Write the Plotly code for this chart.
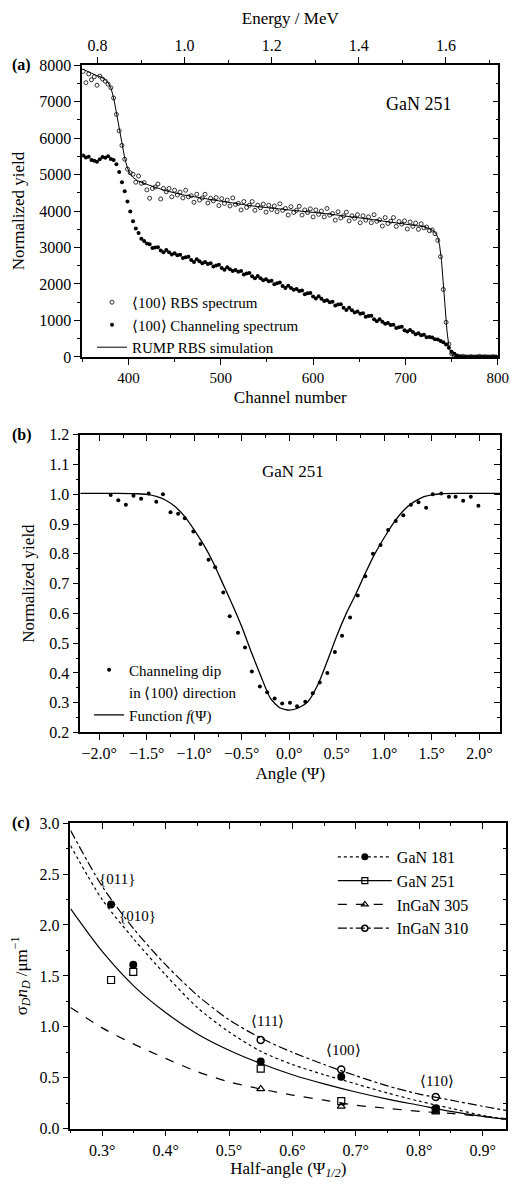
import plotly.graph_objects as go

FONT = "Liberation Serif"
W, H = 522, 1185

# ---------------- Panel (a): RBS / channeling spectra ----------------
rbs_channel = list(range(351, 799, 3))
rbs_yield = [
    7830, 7520, 7760, 7600, 7680, 7450, 7700, 7620, 7560, 7480, 7380, 7100, 6650, 6200, 5800, 5420, 5150, 5050,
    5010, 4790, 4960, 4760, 4780, 4580, 4350, 4620, 4660, 4740, 4330, 4620, 4530, 4620, 4390, 4570, 4440, 4520,
    4360, 4570, 4390, 4420, 4240, 4460, 4300, 4360, 4460, 4220, 4350, 4280, 4370, 4150, 4340, 4210, 4300, 4140,
    4360, 4180, 4210, 4030, 4260, 4100, 4160, 4260, 4020, 4160, 4090, 4190, 3970, 4160, 4040, 4140, 3980, 4200,
    4020, 4070, 3890, 4120, 3960, 4020, 4130, 3890, 4030, 3960, 4060, 3840, 4030, 3910, 4000, 3840, 4070, 3890,
    3930, 3750, 3980, 3810, 3870, 3970, 3730, 3870, 3800, 3900, 3680, 3870, 3750, 3840, 3680, 3900, 3720, 3760,
    3590, 3820, 3660, 3720, 3820, 3580, 3710, 3640, 3730, 3510, 3700, 3580, 3670, 3500, 3650, 3540, 3560, 3460,
    3480,
    3380, 3200, 2750, 1850, 950, 350, 90, 20,
    10, 0, 20, 0, 0, 10, 0, 0, 20, 0, 10, 0, 0, 10, 0,
]
chan_channel = list(range(351, 799, 3))
chan_yield = [
    5520, 5470, 5490, 5400, 5380, 5350, 5420, 5480, 5460, 5500, 5430, 5400, 5280, 5070, 4790, 4540, 4260, 3990,
    3720, 3520, 3400, 3240, 3180, 3110,
    3090, 2990, 3000, 3010, 2920, 2870, 2930, 2870, 2810, 2840, 2790, 2800, 2710, 2730, 2750, 2660, 2600, 2680,
    2620, 2570, 2600, 2550, 2570, 2480, 2510, 2530, 2440, 2390, 2460, 2405, 2355, 2385, 2335, 2355, 2260, 2285,
    2300, 2210, 2155, 2220, 2155, 2100, 2130, 2075, 2090, 1995, 2020, 2040, 1945, 1890, 1955, 1890, 1840, 1860,
    1805, 1820, 1720, 1745, 1755, 1660, 1600, 1665, 1595, 1535, 1555, 1500, 1510, 1410, 1435, 1445, 1345, 1290,
    1350, 1280, 1220, 1245, 1185, 1195, 1100, 1120, 1130, 1035, 975, 1035, 965, 910, 930, 875, 885, 790,
    815, 825, 730, 700, 740, 680, 625, 650, 595, 610, 540, 545, 530, 485, 480, 440, 400, 340,
    250, 140, 90, 40, 10,
    0, 0, 0, 0, 0, 0, 0, 0, 0, 0, 0, 0, 0,
]
rump_channel = [350, 355, 360, 365, 370, 375, 378, 381, 384, 387, 390, 393, 396, 399, 402, 405, 410, 420,
                430, 440, 460, 480, 500, 540, 580, 620, 660, 700, 720, 728, 732, 735, 737, 739, 741, 743,
                745, 747, 749, 752, 755, 800]
rump_yield = [7900, 7850, 7780, 7720, 7680, 7600, 7520, 7380, 7100, 6700, 6250, 5820, 5450, 5180, 5010, 4920,
              4830, 4730, 4640, 4560, 4440, 4350, 4270, 4120, 4020, 3910, 3780, 3650, 3570, 3500, 3420, 3280,
              3050, 2650, 2000, 1300, 700, 300, 100, 20, 0, 0]
channel_ticks = [400, 500, 600, 700, 800]
energy_ticks = [0.8, 1.0, 1.2, 1.4, 1.6]
energy_range = [0.765, 1.72]

# ---------------- Panel (b): channeling dip ----------------
dip_angle = [-1.88, -1.80, -1.72, -1.64, -1.56, -1.48, -1.40, -1.33, -1.25, -1.17,
             -1.10, -1.01, -0.935, -0.85, -0.78, -0.695, -0.627, -0.54, -0.466, -0.394,
             -0.31, -0.233, -0.154, -0.075, 0.007, 0.082, 0.168, 0.247, 0.32, 0.40,
             0.48, 0.555, 0.64, 0.72, 0.80, 0.88, 0.96, 1.04, 1.12, 1.20,
             1.28, 1.36, 1.44, 1.51, 1.60, 1.68, 1.75, 1.83, 1.91, 1.99]
dip_yield = [0.998, 0.98, 0.965, 0.995, 0.985, 1.003, 0.975, 1.0, 0.94, 0.935,
             0.92, 0.875, 0.833, 0.78, 0.755, 0.67, 0.59, 0.535, 0.485, 0.405,
             0.354, 0.335, 0.314, 0.297, 0.30, 0.288, 0.303, 0.332, 0.368, 0.40,
             0.47, 0.525, 0.586, 0.66, 0.725, 0.80, 0.83, 0.88, 0.91, 0.93,
             0.965, 0.973, 0.955, 1.0, 1.003, 0.992, 0.992, 0.978, 0.992, 0.962]
fit_angle = [-2.2, -1.8, -1.6, -1.5, -1.4, -1.3, -1.2, -1.1, -1.0, -0.9,
             -0.8, -0.7, -0.6, -0.5, -0.4, -0.3, -0.2, -0.1, 0.0, 0.1,
             0.2, 0.3, 0.4, 0.5, 0.6, 0.7, 0.8, 0.9, 1.0, 1.1,
             1.2, 1.3, 1.4, 1.5, 1.6, 1.8, 2.22]
fit_yield = [1.003, 1.003, 1.002, 1.0, 0.993, 0.98, 0.958, 0.925, 0.88, 0.83,
             0.77, 0.70, 0.63, 0.555, 0.47, 0.39, 0.315, 0.283, 0.275, 0.283,
             0.305, 0.36, 0.44, 0.525, 0.60, 0.665, 0.735, 0.80, 0.855, 0.905,
             0.945, 0.972, 0.99, 0.998, 1.002, 1.003, 1.003]
angle_ticks = [-2.0, -1.5, -1.0, -0.5, 0.0, 0.5, 1.0, 1.5, 2.0]
angle_labels = ["−2.0°", "−1.5°", "−1.0°", "−0.5°", "0.0°", "0.5°", "1.0°", "1.5°", "2.0°"]

# ---------------- Panel (c): dechanneling vs half-angle ----------------
half_angle_grid = [0.25, 0.30, 0.35, 0.40, 0.45, 0.50, 0.55, 0.60, 0.65, 0.70, 0.75, 0.80, 0.85, 0.90, 0.937]
gan181_fit = [2.78, 2.25, 1.86, 1.51, 1.19, 0.95, 0.76, 0.63, 0.53, 0.44, 0.35, 0.27, 0.20, 0.13, 0.09]
gan251_fit = [2.16, 1.74, 1.40, 1.14, 0.93, 0.77, 0.64, 0.53, 0.44, 0.36, 0.29, 0.23, 0.17, 0.12, 0.09]
ingan305_fit = [1.19, 0.99, 0.83, 0.69, 0.56, 0.46, 0.39, 0.33, 0.28, 0.23, 0.20, 0.17, 0.15, 0.12, 0.10]
ingan310_fit = [2.93, 2.38, 1.96, 1.61, 1.31, 1.07, 0.89, 0.75, 0.63, 0.52, 0.42, 0.34, 0.28, 0.22, 0.18]

gan_angle = [0.314, 0.349, 0.55, 0.677, 0.826]
gan181_pts = [2.20, 1.61, 0.66, 0.51, 0.20]
gan251_pts = [1.46, 1.54, 0.59, 0.27, 0.18]
ingan_angle = [0.55, 0.677, 0.826]
ingan305_pts = [0.39, 0.22, 0.17]
ingan310_pts = [0.87, 0.58, 0.31]

dir_labels = ["{011}", "{010}", "⟨111⟩", "⟨100⟩", "⟨110⟩"]
dir_x = [0.323, 0.355, 0.56, 0.681, 0.828]
dir_y = [2.45, 2.09, 1.06, 0.77, 0.47]

half_ticks = [0.3, 0.4, 0.5, 0.6, 0.7, 0.8, 0.9]
half_labels = ["0.3°", "0.4°", "0.5°", "0.6°", "0.7°", "0.8°", "0.9°"]


def fx(p):
    return p / W


def fy(p):
    return 1 - p / H


A_X = [fx(84), fx(509)]
A_Y = [fy(354), fy(58)]
B_X = [fx(82), fx(511)]
B_Y = [fy(735), fy(433)]
C_X = [fx(72), fx(517)]
C_Y = [fy(1137), fy(827)]

fig = go.Figure()

# Panel a traces
fig.add_trace(go.Scatter(x=rbs_channel, y=rbs_yield, mode="markers", name="⟨100⟩ RBS spectrum",
                         marker=dict(symbol="circle-open", size=4, color="black", line=dict(width=0.8)),
                         xaxis="x", yaxis="y", legend="legend"))
fig.add_trace(go.Scatter(x=chan_channel, y=chan_yield, mode="markers", name="⟨100⟩ Channeling spectrum",
                         marker=dict(symbol="circle", size=4, color="black"),
                         xaxis="x", yaxis="y", legend="legend"))
fig.add_trace(go.Scatter(x=rump_channel, y=rump_yield, mode="lines", name="RUMP RBS simulation",
                         line=dict(color="black", width=1),
                         xaxis="x", yaxis="y", legend="legend"))

# Panel b traces
fig.add_trace(go.Scatter(x=dip_angle, y=dip_yield, mode="markers", name="Channeling dip",
                         marker=dict(symbol="circle", size=4, color="black"),
                         xaxis="x2", yaxis="y2", legend="legend2"))
fig.add_trace(go.Scatter(x=[None], y=[None], mode="markers", name="in ⟨100⟩ direction",
                         marker=dict(symbol="circle", size=4, color="rgba(0,0,0,0)"),
                         xaxis="x2", yaxis="y2", legend="legend2"))
fig.add_trace(go.Scatter(x=fit_angle, y=fit_yield, mode="lines", name="Function <i>f</i>(Ψ)",
                         line=dict(color="black", width=1.3, shape="spline", smoothing=0.6),
                         xaxis="x2", yaxis="y2", legend="legend2"))

# Panel c traces
series_c = [
    ("GaN 181", gan181_fit, gan_angle, gan181_pts, "dot",
     dict(symbol="circle", size=8, color="black")),
    ("GaN 251", gan251_fit, gan_angle, gan251_pts, "solid",
     dict(symbol="square-open", size=7, color="black", line=dict(width=1.2))),
    ("InGaN 305", ingan305_fit, ingan_angle, ingan305_pts, "dash",
     dict(symbol="triangle-up-open", size=7, color="black", line=dict(width=1.2))),
    ("InGaN 310", ingan310_fit, ingan_angle, ingan310_pts, "dashdot",
     dict(symbol="circle-open", size=7, color="black", line=dict(width=1.5))),
]
for name, fit, ax_, pts, dash, mk in series_c:
    fig.add_trace(go.Scatter(x=half_angle_grid, y=fit, mode="lines", showlegend=False,
                             line=dict(color="black", width=1.2, dash=dash, shape="spline", smoothing=0.8),
                             xaxis="x3", yaxis="y3"))
    fig.add_trace(go.Scatter(x=ax_, y=pts, mode="markers", showlegend=False, marker=mk,
                             xaxis="x3", yaxis="y3"))
for name, fit, ax_, pts, dash, mk in series_c:
    lmk = dict(mk)
    lmk["size"] = 6 if mk["symbol"] != "circle" else 7
    fig.add_trace(go.Scatter(x=[None], y=[None], mode="lines+markers", name=name,
                             line=dict(color="black", width=1.2, dash=dash), marker=lmk,
                             xaxis="x3", yaxis="y3", legend="legend3"))

# dummy traces to attach mirrored / secondary axes
for xa, ya in [("x4", "y"), ("x", "y4"), ("x5", "y2"), ("x2", "y5"), ("x6", "y3"), ("x3", "y6")]:
    fig.add_trace(go.Scatter(x=[None], y=[None], mode="markers", showlegend=False, hoverinfo="skip",
                             xaxis=xa, yaxis=ya))

YTICKFONT = dict(family=FONT, size=16, color="black")
XTICKFONT = dict(family=FONT, size=16, color="black")
XTICKFONT_A = dict(family=FONT, size=15, color="black")
TITLEFONT = dict(family=FONT, size=17, color="black")
MINOR_OUT = dict(ticks="outside", ticklen=3, tickcolor="black", tickwidth=1)
MINOR_IN = dict(ticks="inside", ticklen=3, tickcolor="black", tickwidth=1)


def ax(**kw):
    d = dict(showline=True, linecolor="black", linewidth=1.5, ticks="outside", ticklen=6, tickwidth=1.3,
             tickcolor="black", showgrid=False, zeroline=False, tickfont=YTICKFONT, autorange=False)
    d.update(kw)
    return d


def mirror(**kw):
    d = dict(showline=True, linecolor="black", linewidth=1.5, ticks="inside", ticklen=6, tickwidth=1.3,
             tickcolor="black", showgrid=False, zeroline=False, showticklabels=False, autorange=False)
    d.update(kw)
    return d


fig.update_layout(
    width=W, height=H, margin=dict(l=0, r=0, t=0, b=0),
    paper_bgcolor="white", plot_bgcolor="white",
    font=dict(family=FONT, color="black"),
    # Panel a
    xaxis=ax(domain=A_X, anchor="y", range=[350, 800.5], tickvals=channel_ticks,
             ticktext=[str(v) for v in channel_ticks], tickfont=XTICKFONT_A,
             minor=dict(dtick=50, tick0=0, **MINOR_OUT),
             title=dict(text="Channel number", font=TITLEFONT, standoff=6)),
    yaxis=ax(domain=A_Y, anchor="x", range=[0, 8000], dtick=1000,
             minor=dict(dtick=500, **MINOR_OUT),
             title=dict(text="Normalized yield", font=TITLEFONT, standoff=10)),
    xaxis4=ax(overlaying="x", side="top", anchor="y", range=energy_range, tickfont=XTICKFONT,
              tickvals=energy_ticks, ticktext=[f"{v:.1f}" for v in energy_ticks],
              minor=dict(dtick=0.1, tick0=0.8, **MINOR_OUT),
              title=dict(text="Energy / MeV", font=TITLEFONT, standoff=8)),
    yaxis4=mirror(overlaying="y", side="right", anchor="x", range=[0, 8000], dtick=1000,
                  minor=dict(dtick=500, **MINOR_IN)),
    # Panel b
    xaxis2=ax(domain=B_X, anchor="y2", range=[-2.2, 2.22], tickvals=angle_ticks, ticktext=angle_labels,
              tickfont=XTICKFONT, minor=dict(dtick=0.25, tick0=0, **MINOR_OUT),
              title=dict(text="Angle (Ψ)", font=TITLEFONT, standoff=6)),
    yaxis2=ax(domain=B_Y, anchor="x2", range=[0.2, 1.2], dtick=0.1, tickformat=".1f",
              minor=dict(dtick=0.05, **MINOR_OUT),
              title=dict(text="Normalized yield", font=TITLEFONT, standoff=10)),
    xaxis5=mirror(overlaying="x2", side="top", anchor="y2", range=[-2.2, 2.22], tickvals=angle_ticks,
                  minor=dict(dtick=0.25, tick0=0, **MINOR_IN)),
    yaxis5=mirror(overlaying="y2", side="right", anchor="x2", range=[0.2, 1.2], dtick=0.1,
                  minor=dict(dtick=0.05, **MINOR_IN)),
    # Panel c
    xaxis3=ax(domain=C_X, anchor="y3", range=[0.25, 0.937], tickvals=half_ticks, ticktext=half_labels,
              tickfont=XTICKFONT, minor=dict(dtick=0.05, tick0=0, **MINOR_OUT),
              title=dict(text="Half-angle (Ψ<sub><i>1/2</i></sub>)", font=TITLEFONT, standoff=3)),
    yaxis3=ax(domain=C_Y, anchor="x3", range=[0, 3.0], dtick=0.5, tickformat=".1f",
              minor=dict(dtick=0.25, **MINOR_OUT),
              title=dict(text="σ<sub><i>D</i></sub><i>n</i><sub><i>D</i></sub> /μm<sup>−1</sup>",
                         font=TITLEFONT, standoff=8)),
    xaxis6=mirror(overlaying="x3", side="top", anchor="y3", range=[0.25, 0.937], tickvals=half_ticks,
                  minor=dict(dtick=0.05, tick0=0, **MINOR_IN)),
    yaxis6=mirror(overlaying="y3", side="right", anchor="x3", range=[0, 3.0], dtick=0.5,
                  minor=dict(dtick=0.25, **MINOR_IN)),
    legend=dict(x=fx(94), y=fy(282), xanchor="left", yanchor="top", bgcolor="rgba(0,0,0,0)",
                font=dict(family=FONT, size=15, color="black"), tracegroupgap=0),
    legend2=dict(x=fx(91), y=fy(655), xanchor="left", yanchor="top", bgcolor="rgba(0,0,0,0)",
                 font=dict(family=FONT, size=15, color="black"), tracegroupgap=0),
    legend3=dict(x=fx(340), y=fy(844), xanchor="left", yanchor="top", bgcolor="rgba(0,0,0,0)",
                 font=dict(family=FONT, size=16, color="black"), tracegroupgap=0, itemwidth=54),
    showlegend=True,
)

annotations = [
    dict(text="<b>(a)</b>", x=fx(10), y=fy(58), xref="paper", yref="paper", xanchor="left", yanchor="middle",
         showarrow=False, font=dict(family=FONT, size=16, color="black")),
    dict(text="<b>(b)</b>", x=fx(10), y=fy(433), xref="paper", yref="paper", xanchor="left", yanchor="middle",
         showarrow=False, font=dict(family=FONT, size=16, color="black")),
    dict(text="<b>(c)</b>", x=fx(10), y=fy(827), xref="paper", yref="paper", xanchor="left", yanchor="middle",
         showarrow=False, font=dict(family=FONT, size=16, color="black")),
    dict(text="GaN 251", x=715, y=6930, xref="x", yref="y", showarrow=False,
         font=dict(family=FONT, size=18, color="black")),
    dict(text="GaN 251", x=0.04, y=1.075, xref="x2", yref="y2", showarrow=False,
         font=dict(family=FONT, size=17, color="black")),
]
for t, xv, yv in zip(dir_labels, dir_x, dir_y):
    annotations.append(dict(text=t, x=xv, y=yv, xref="x3", yref="y3", showarrow=False,
                            font=dict(family=FONT, size=15, color="black")))
fig.update_layout(annotations=annotations)

fig.write_html("out.html")
